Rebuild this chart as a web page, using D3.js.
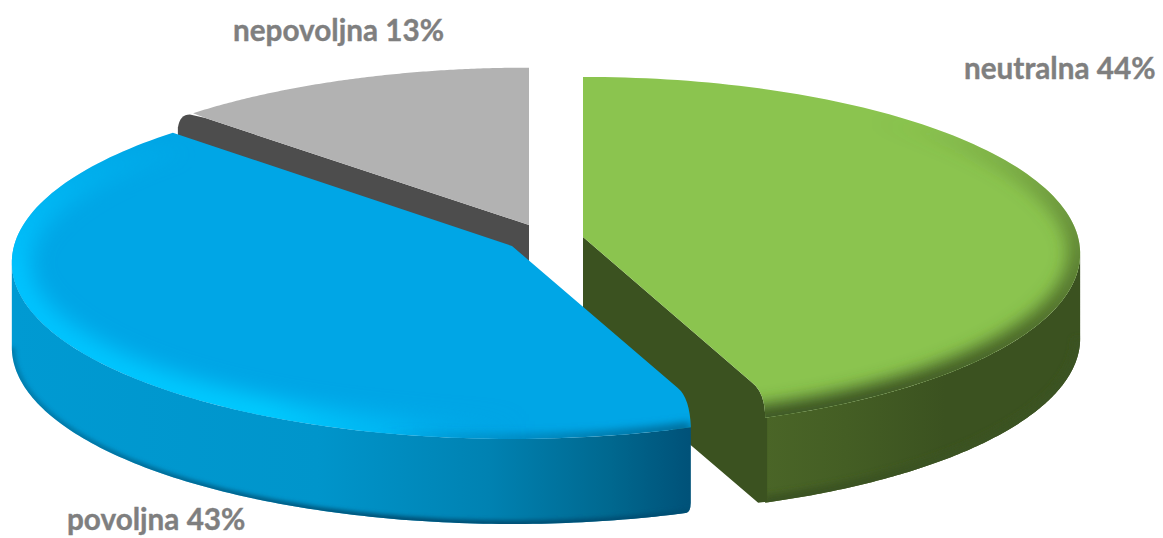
<!DOCTYPE html>
<html><head><meta charset="utf-8">
<script src="https://d3js.org/d3.v7.min.js"></script>
<style>
html,body{margin:0;padding:0;background:#fff;overflow:hidden}
text{font-family:Lato,"Open Sans",sans-serif;font-weight:700;font-size:29.7px;fill:#7f7f7f;stroke:#7f7f7f;stroke-width:.4px}
</style></head><body>
<script>
// data (estimated shares that round to the printed labels)
const categories = ["neutralna", "povoljna", "nepovoljna"];
const values = [43.8, 43.3, 12.9];
const printed = ["44%", "43%", "13%"];

// layout
const W = 1163, H = 538, K = 0.093, RX = 495, RY = 175;
const rad = Math.PI / 180;
const svg = d3.select("body").append("svg").attr("width", W).attr("height", H);
const defs = svg.append("defs");
const line = d3.line();
const arcs = d3.pie().sort(null)(values);

const proj = (c, a, ry = RY, rx = RX) => {
  const u = Math.sin(a), v = -Math.cos(a), w = 1 - K * v;
  return [c[0] + rx * u / w, c[1] + ry * v / w];
};
const arcPts = (c, a0, a1, dy = 0, ry = RY, rx = RX) =>
  d3.range(0, 121).map(i => {
    const p = proj(c, a0 + (a1 - a0) * i / 120, ry, rx);
    return [p[0], p[1] + dy];
  });
const mix = (a, b, t) => [a[0] + (b[0] - a[0]) * t, a[1] + (b[1] - a[1]) * t];
const poly = pts => line(pts);
const blur = (id, s) => defs.append("filter").attr("id", id)
  .attr("filterUnits", "userSpaceOnUse").attr("x", -100).attr("y", -100).attr("width", W + 200).attr("height", H + 200)
  .append("feGaussianBlur").attr("stdDeviation", s);
blur("b2", 2); blur("b3", 3); blur("b4", 4); blur("b8", 8); blur("b11", 11);
const grad = (id, x1, y1, x2, y2, stops) => {
  const g = defs.append("linearGradient").attr("id", id).attr("gradientUnits", "userSpaceOnUse")
    .attr("x1", x1).attr("x2", x2).attr("y1", y1).attr("y2", y2);
  stops.forEach(s => g.append("stop").attr("offset", s[0]).attr("stop-color", s[1]).attr("stop-opacity", s[2] === undefined ? 1 : s[2]));
  return `url(#${id})`;
};
const clip = (id, d) => defs.append("clipPath").attr("id", id).append("path").attr("d", d);
const TANG = Math.acos(-K);
const CUT = 2.7 * rad;

/* ---------- nepovoljna (grey) ---------- */
{
  const a = arcs[2], c = [529, 225], ry = 172;
  const P = proj(c, a.startAngle, ry), L = mix(c, P, 0.96);
  const wall = `M${c}L${[c[0], c[1] + 45]}L${[P[0] - 14, P[1] + 28]}L${[P[0] - 14, P[1] + 14]}Q${[P[0] - 12, P[1] + 1]} ${[P[0] - 2, P[1] + 1]}L${L}Z`;
  svg.append("path").attr("d", wall).attr("fill", "#4d4d4d");
  const top = arcPts(c, a.startAngle + 0.2 * rad, a.endAngle, 0, ry);
  svg.append("path").attr("d", poly([c, L, ...top]) + "Z").attr("fill", "#b2b2b2");
}

/* ---------- neutralna (green) ---------- */
{
  const a = arcs[0], c = [583, 237];
  const E = proj(c, a.endAngle), L = mix(c, E, 0.82), T = proj(c, a.endAngle + CUT);
  const sideTop = arcPts(c, TANG, a.endAngle + CUT);
  const sideBot = arcPts(c, a.endAngle + CUT, TANG, 85);
  const sideD = poly([...sideTop, ...sideBot]) + "Z";
  const tip = [T[0] - 7, T[1] + 85];
  clip("gs", sideD);
  svg.append("path").attr("d", sideD).attr("fill", grad("gSide", T[0], 0, T[0] + 180, 0, [[0, "#4a6527"], [.45, "#445e24"], [1, "#3b5220"]]));
  svg.append("g").attr("clip-path", "url(#gs)").append("path")
    .attr("d", poly(arcPts(c, TANG, a.endAngle + CUT, 85))).attr("fill", "none")
    .attr("stroke", "#3b5220").attr("stroke-width", 14).attr("filter", "url(#b3)");
  svg.append("path")
    .attr("d", poly([c, L]) + `Q${[T[0], L[1] + 10]} ${T}` + `L${[T[0] + 2, T[1]]}L${[T[0] + 2, tip[1] - 1]}L${tip}L${[c[0], c[1] + 116]}Z`)
    .attr("fill", "#3b5220");
  const topD = poly([c, L]) + `Q${[T[0], L[1] + 10]} ${T}` + poly(arcPts(c, a.endAngle + CUT, a.startAngle)).replace("M", "L") + "Z";
  clip("gt", topD);
  svg.append("path").attr("d", topD).attr("fill", "#8bc44f");
  const g = svg.append("g").attr("clip-path", "url(#gt)");
  g.append("path").attr("d", poly(arcPts(c, 30 * rad, a.endAngle + CUT + 3 * rad))).attr("fill", "none")
    .attr("stroke", grad("gRim", 0, 120, 0, 400, [[0, "#55752e", 0], [.3, "#55752e", .55], [.55, "#4c6a29", .8], [1, "#3b5220", 1]]))
    .attr("stroke-width", 26).attr("filter", "url(#b8)");
}

/* ---------- povoljna (blue) ---------- */
{
  const a = arcs[1], c = [512, 246], rx = 498, cut = 3.2 * rad;
  const E = proj(c, a.startAngle, RY, rx), L = mix(c, E, 0.8), T = proj(c, a.startAngle + cut, RY, rx);
  const sideTop = arcPts(c, a.startAngle + cut, 2 * Math.PI - TANG, 0, RY, rx);
  const sideBot = arcPts(c, 2 * Math.PI - TANG, a.startAngle + cut + 0.6 * rad, 85, RY, rx);
  const last = sideBot[sideBot.length - 1];
  const sideD = poly(sideTop) + poly(sideBot).replace("M", "L") + `Q${[T[0], last[1] - 1]} ${[T[0], last[1] - 10]}Z`;
  clip("bs", sideD);
  svg.append("path").attr("d", sideD).attr("fill", grad("bSide", 12, 0, 692, 0, [[0, "#009ad2"], [.45, "#0095cb"], [.7, "#0082b2"], [.88, "#00688f"], [1, "#005178"]]));
  const sg = svg.append("g").attr("clip-path", "url(#bs)");
  sg.append("path").attr("d", poly(arcPts(c, 2 * Math.PI - TANG, a.startAngle + cut, 85, RY, rx))).attr("fill", "none")
    .attr("stroke", grad("bBot", 40, 0, 400, 0, [[0, "#004e72", .4], [1, "#004e72", 1]])).attr("stroke-width", 7).attr("filter", "url(#b2)");
  const topPts = arcPts(c, a.startAngle + cut, a.endAngle, 0, RY, rx);
  const topD = poly([c, L]) + `Q${[T[0] - 1, L[1] + 10]} ${T}` + poly(topPts).replace("M", "L") + "Z";
  clip("bt", topD);
  svg.append("path").attr("d", topD).attr("fill", "#00a6e6");

  const m = defs.append("mask").attr("id", "bMask").attr("maskUnits", "userSpaceOnUse")
    .attr("x", 0).attr("y", 0).attr("width", W).attr("height", H);
  m.append("rect").attr("width", W).attr("height", H)
    .attr("fill", grad("bMaskG", 0, 140, 0, 270, [[0, "#000"], [.45, "#888"], [1, "#fff"]]));
  const g = svg.append("g").attr("clip-path", "url(#bt)");
  g.append("g").attr("mask", "url(#bMask)").append("path")
    .attr("d", poly(arcPts(c, a.startAngle + 14 * rad, a.endAngle, 0, RY, rx))).attr("fill", "none")
    .attr("stroke", grad("bRim", 12, 0, 520, 0, [[0, "#00c4ff"], [.5, "#00ccff"], [.75, "#00bdf8", .7], [1, "#00a6e6", 0]]))
    .attr("stroke-width", 36).attr("filter", "url(#b11)");
  g.append("path").attr("d", poly(arcPts(c, a.startAngle + cut, a.startAngle + 42 * rad, 0, RY, rx))).attr("fill", "none")
    .attr("stroke", grad("bEdge", 380, 0, 692, 0, [[0, "#005f88", 0], [1, "#005f88", .95]]))
    .attr("stroke-width", 10).attr("filter", "url(#b4)");
}

/* ---------- labels ---------- */
const labelPos = [[964, 79], [67, 530], [233, 41]];
svg.append("g").selectAll("text").data(categories).join("text")
  .attr("x", (d, i) => labelPos[i][0]).attr("y", (d, i) => labelPos[i][1])
  .text((d, i) => `${d} ${printed[i]}`);
</script>
</body></html>
